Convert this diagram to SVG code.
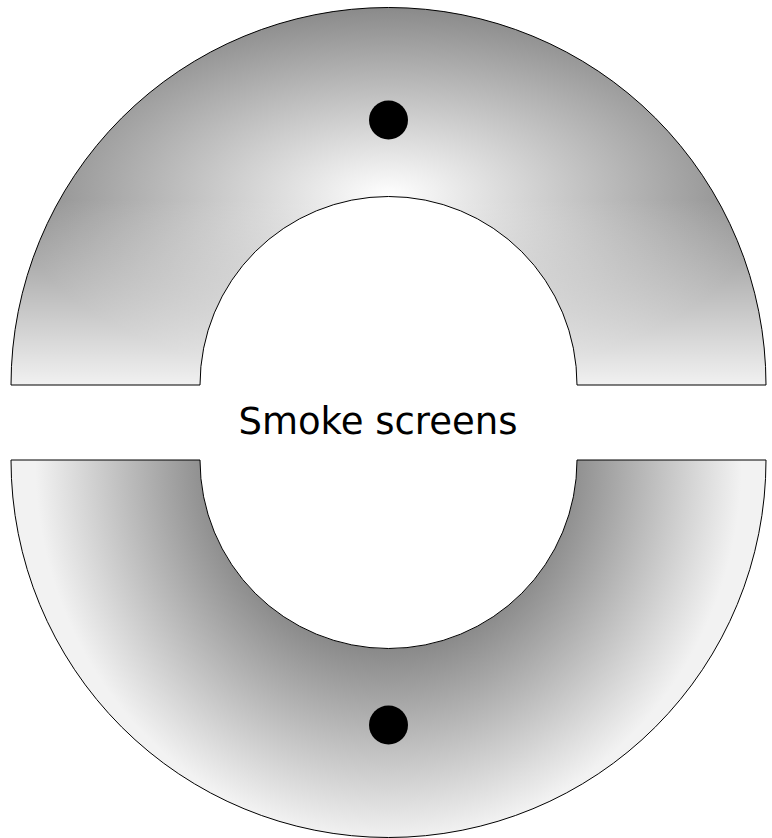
<svg xmlns="http://www.w3.org/2000/svg" width="772" height="838" viewBox="0 0 772 838">
  <style>
    .outline { stroke: #000; stroke-width: 1; }
    .dot { fill: #000; }
    .label { font-family: "DejaVu Sans", Verdana, sans-serif; font-size: 37px; fill: #000; }
  </style>
  <defs>
    <radialGradient id="gTop" gradientUnits="userSpaceOnUse" cx="388.5" cy="196" r="377" gradientTransform="translate(388.5 196) scale(1 0.5) translate(-388.5 -196)">
      <stop offset="0" stop-color="#ffffff"/>
      <stop offset="1" stop-color="#8a8a8a"/>
    </radialGradient>
    <linearGradient id="gTopFade" gradientUnits="userSpaceOnUse" x1="0" y1="200" x2="0" y2="385">
      <stop offset="0" stop-color="#ffffff" stop-opacity="0"/>
      <stop offset="1" stop-color="#ffffff" stop-opacity="0.88"/>
    </linearGradient>
    <radialGradient id="gBottom" gradientUnits="userSpaceOnUse" cx="388.5" cy="460" r="380" gradientTransform="translate(388.5 460) scale(0.93 1) translate(-388.5 -460)">
      <stop offset="0" stop-color="#8a8a8a"/>
      <stop offset="0.5" stop-color="#8a8a8a"/>
      <stop offset="1" stop-color="#f2f2f2"/>
    </radialGradient>
  </defs>

  <g id="top-screen">
    <path d="M11,385 A377.5,377.5 0 0 1 766,385 L577,385 A188.5,188.5 0 0 0 200,385 Z" fill="url(#gTop)"/>
    <path d="M11,385 A377.5,377.5 0 0 1 766,385 L577,385 A188.5,188.5 0 0 0 200,385 Z" fill="url(#gTopFade)" class="outline"/>
    <circle class="dot" cx="388.5" cy="120" r="19.5"/>
  </g>

  <g id="bottom-screen">
    <path d="M11,460 A377.5,377.5 0 0 0 766,460 L577,460 A188.5,188.5 0 0 1 200,460 Z" fill="url(#gBottom)" class="outline"/>
    <circle class="dot" cx="388.5" cy="725" r="19.5"/>
  </g>

  <g id="title">
    <text class="label" x="378" y="434" text-anchor="middle">Smoke screens</text>
  </g>

  <g id="connectors"/>
</svg>
